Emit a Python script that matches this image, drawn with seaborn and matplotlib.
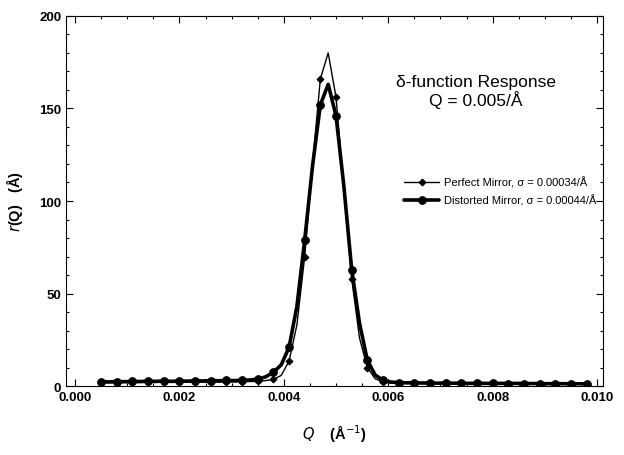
import numpy as np
import pandas as pd
import matplotlib
matplotlib.use("Agg")
import matplotlib.pyplot as plt
from matplotlib.ticker import MultipleLocator, FormatStrFormatter
import seaborn as sns

# Q grid (1/A)
q = [0.00050, 0.00065, 0.00080, 0.00095, 0.00110, 0.00125, 0.00140, 0.00155,
     0.00170, 0.00185, 0.00200, 0.00215, 0.00230, 0.00245, 0.00260, 0.00275,
     0.00290, 0.00305, 0.00320, 0.00335, 0.00350, 0.00365, 0.00380, 0.00395,
     0.00410, 0.00425, 0.00440, 0.00455, 0.00470, 0.00485, 0.00500, 0.00515,
     0.00530, 0.00545, 0.00560, 0.00575, 0.00590, 0.00605, 0.00620, 0.00635,
     0.00650, 0.00665, 0.00680, 0.00695, 0.00710, 0.00725, 0.00740, 0.00755,
     0.00770, 0.00785, 0.00800, 0.00815, 0.00830, 0.00845, 0.00860, 0.00875,
     0.00890, 0.00905, 0.00920, 0.00935, 0.00950, 0.00965, 0.00980]

perfect = [1.8, 1.9, 1.8, 2.0, 1.9, 2.0, 2.1, 2.0, 2.1, 2.0, 2.2, 2.1, 2.2, 2.1,
           2.3, 2.2, 2.3, 2.3, 2.4, 2.5, 2.6, 3.0, 3.6, 5.8, 13.5, 33.0, 70.0,
           120.0, 166.0, 180.0, 156.0, 106.0, 58.0, 26.0, 10.0, 4.0, 2.2, 1.7,
           1.6, 1.5, 1.5, 1.5, 1.4, 1.5, 1.4, 1.4, 1.3, 1.4, 1.3, 1.3, 1.4, 1.3,
           1.2, 1.3, 1.2, 1.2, 1.3, 1.2, 1.2, 1.1, 1.2, 1.1, 1.1]

distorted = [2.4, 2.3, 2.5, 2.4, 2.6, 2.5, 2.7, 2.6, 2.8, 2.6, 2.8, 2.7, 2.9, 2.8,
             3.0, 2.9, 3.1, 3.0, 3.2, 3.3, 3.8, 5.0, 7.5, 11.5, 21.0, 43.0, 79.0,
             119.0, 152.0, 163.0, 146.0, 108.0, 63.0, 34.0, 14.0, 6.0, 3.2, 2.2,
             1.9, 1.8, 1.8, 1.7, 1.7, 1.6, 1.7, 1.6, 1.6, 1.5, 1.6, 1.5, 1.5, 1.5,
             1.4, 1.5, 1.4, 1.4, 1.4, 1.3, 1.4, 1.3, 1.3, 1.3, 1.2]

labels = ["Perfect Mirror, σ = 0.00034/Å", "Distorted Mirror, σ = 0.00044/Å"]

df = pd.DataFrame({"Q": q, "perfect": perfect, "distorted": distorted})

sns.set_style("ticks")
plt.rcParams['font.family'] = ['Liberation Sans', 'DejaVu Sans']
plt.rcParams['text.color'] = 'black'
plt.rcParams['axes.labelcolor'] = 'black'
plt.rcParams['xtick.color'] = 'black'
plt.rcParams['ytick.color'] = 'black'
plt.rcParams['axes.edgecolor'] = 'black'

fig = plt.figure(figsize=(6.24, 4.56), dpi=100)
ax = fig.add_axes([0.106, 0.151, 0.860, 0.812])

sns.lineplot(data=df, x="Q", y="perfect", ax=ax, color="black", linewidth=1.0,
             marker="D", markersize=3.5, markevery=2, markeredgecolor="black",
             label=labels[0])
sns.lineplot(data=df, x="Q", y="distorted", ax=ax, color="black", linewidth=2.6,
             marker="o", markersize=5.5, markevery=2, markeredgecolor="black",
             label=labels[1])

ax.set_xlim(-0.00017, 0.01011)
ax.set_ylim(0, 200)
ax.xaxis.set_major_locator(MultipleLocator(0.002))
ax.xaxis.set_minor_locator(MultipleLocator(0.0005))
ax.yaxis.set_major_locator(MultipleLocator(50))
ax.yaxis.set_minor_locator(MultipleLocator(10))
ax.xaxis.set_major_formatter(FormatStrFormatter('%.3f'))
ax.tick_params(which='both', direction='in', top=True, right=True,
               labelsize=9.5, width=0.8, color='black')
ax.tick_params(which='major', length=5)
ax.tick_params(which='minor', length=2.5)
for lbl in ax.get_xticklabels() + ax.get_yticklabels():
    lbl.set_fontweight('bold')
for s in ax.spines.values():
    s.set_linewidth(0.8)
    s.set_linestyle((0, (2, 1)))

ax.set_xlabel("$Q$    (Å$^{-1}$)", fontsize=10.5, fontweight='bold', labelpad=14)
ax.set_ylabel("$r$(Q)   (Å)", fontsize=10.5, fontweight='bold', labelpad=10)

ax.text(0.763, 0.797, "δ-function Response\nQ = 0.005/Å", transform=ax.transAxes,
        ha='center', va='center', fontsize=12.5, linespacing=1.1)

ax.legend(loc='upper right', bbox_to_anchor=(1.0, 0.585), frameon=False,
          fontsize=8.0, handlelength=3.2, handletextpad=0.4, labelspacing=0.6,
          borderaxespad=0.2)

fig.savefig("out.png", dpi=100)
